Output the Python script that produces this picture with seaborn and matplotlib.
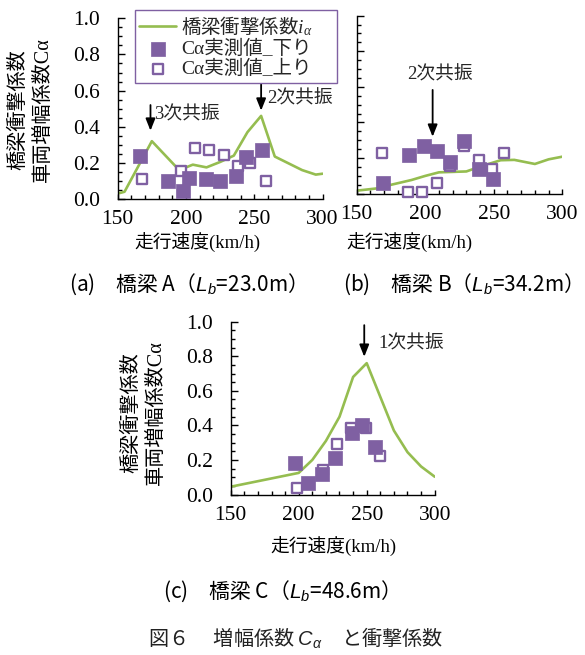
import matplotlib
matplotlib.use("Agg")
import matplotlib.pyplot as plt
import seaborn as sns
from matplotlib.ticker import MultipleLocator, FormatStrFormatter

# ---------------- data ----------------
x_ticks = [150, 200, 250, 300]
y_ticks = [0.0, 0.2, 0.4, 0.6, 0.8, 1.0]

# Bridge A (Lb = 23.0 m)
a_line_speed = [150, 155, 175, 195, 205, 215, 225, 235, 245, 255, 265, 285, 295, 300]
a_line_val = [0.03, 0.04, 0.32, 0.16, 0.19, 0.175, 0.205, 0.24, 0.37, 0.46, 0.235, 0.16, 0.135, 0.14]
a_down_speed = [166, 187, 197.5, 202.5, 215, 225, 236.5, 244, 255.5]
a_down_val = [0.236, 0.10, 0.047, 0.118, 0.112, 0.098, 0.125, 0.234, 0.273]
a_up_speed = [167.5, 196, 206.5, 217, 228, 238, 247, 258.5]
a_up_val = [0.11, 0.155, 0.28, 0.273, 0.243, 0.18, 0.20, 0.10]

# Bridge B (Lb = 34.2 m)
b_line_speed = [150, 165, 175, 190, 200, 210, 230, 240, 255, 265, 280, 290, 300]
b_line_val = [0.017, 0.03, 0.05, 0.077, 0.10, 0.12, 0.125, 0.152, 0.188, 0.19, 0.167, 0.193, 0.208]
b_down_speed = [169.4, 188.5, 199.2, 208.5, 217.8, 228.5, 239.2, 249.6]
b_down_val = [0.06, 0.215, 0.27, 0.24, 0.178, 0.294, 0.138, 0.085]
b_up_speed = [168.3, 187.7, 197.8, 208.4, 217.8, 228.5, 239.2, 248.7, 257.7]
b_up_val = [0.227, 0.008, 0.011, 0.058, 0.157, 0.27, 0.187, 0.138, 0.228]

# Bridge C (Lb = 48.6 m)
c_line_speed = [150, 200, 210, 220, 230, 240, 250, 270, 280, 290, 300]
c_line_val = [0.045, 0.125, 0.20, 0.31, 0.45, 0.68, 0.76, 0.37, 0.245, 0.162, 0.103]
c_down_speed = [197.2, 207, 217, 227, 239, 246.3, 255.8]
c_down_val = [0.181, 0.069, 0.12, 0.21, 0.355, 0.40, 0.277]
c_up_speed = [199, 217.8, 228, 238.5, 249.8, 259.5]
c_up_val = [0.037, 0.14, 0.29, 0.384, 0.386, 0.224]

lbl_line = "橋梁衝撃係数$i_\\alpha$"
lbl_down = "Cα実測値_下り"
lbl_up = "Cα実測値_上り"
xlabel = "走行速度(km/h)"
ylabel = "橋梁衝撃係数\n車両増幅係数Cα"
cap_a = "(a)\u3000橋梁 A（$\\mathsf{L_b}$=23.0m）"
cap_b = "(b)\u3000橋梁 B（$\\mathsf{L_b}$=34.2m）"
cap_c = "(c)\u3000橋梁 C（$\\mathsf{L_b}$=48.6m）"
cap_fig = "図６\u3000 増幅係数 $\\mathsf{C_α}$\u3000と衝撃係数"

# ---------------- style ----------------
sns.set_theme(style="ticks")
MIX = ["Liberation Serif", "Noto Sans CJK JP"]
plt.rcParams["font.family"] = MIX
plt.rcParams["mathtext.fontset"] = "custom"
plt.rcParams["mathtext.it"] = "Liberation Serif:italic"
plt.rcParams["mathtext.rm"] = "Liberation Serif"
plt.rcParams["mathtext.sf"] = "Liberation Sans:italic"

GREEN = "#95BD50"
PURPLE = "#7F60A2"

W, H = 585, 655
fig = plt.figure(figsize=(W / 100, H / 100), dpi=100)
fig.patch.set_facecolor("white")


def add_ax(l, t, r, b):
    return fig.add_axes([l / W, 1 - b / H, (r - l) / W, (b - t) / H])


axA = add_ax(117.7, 18.3, 322.6, 199.0)
axB = add_ax(356.7, 15.7, 562.3, 193.7)
axC = add_ax(230.7, 321.7, 434.7, 494.5)


def panel(ax, ls, lv, ds, dv, us, uv, show_ylab):
    sns.lineplot(x=ls, y=lv, ax=ax, color=GREEN, lw=1.9, zorder=2,
                 label=lbl_line, errorbar=None, legend=False)
    sns.scatterplot(x=us, y=uv, ax=ax, marker="s", s=62, facecolor="white",
                    edgecolor=PURPLE, linewidth=1.7, zorder=3, clip_on=False,
                    label=lbl_up, legend=False)
    sns.scatterplot(x=ds, y=dv, ax=ax, marker="s", s=88, color=PURPLE,
                    edgecolor=PURPLE, linewidth=0.5, zorder=4, clip_on=False,
                    label=lbl_down, legend=False)
    ax.set_xlim(150, 300)
    ax.set_ylim(0, 1.0)
    ax.set_xticks(x_ticks)
    ax.set_yticks(y_ticks)
    ax.xaxis.set_minor_locator(MultipleLocator(10))
    ax.yaxis.set_minor_locator(MultipleLocator(0.05))
    ax.yaxis.set_major_formatter(FormatStrFormatter("%.1f"))
    ax.xaxis.set_major_formatter(FormatStrFormatter("%d"))
    for s in ("top", "right"):
        ax.spines[s].set_visible(False)
    for s in ("left", "bottom"):
        ax.spines[s].set_color("black")
        ax.spines[s].set_linewidth(1.0)
    ax.tick_params(axis="x", which="major", direction="in", length=3.8, width=1.0,
                   color="black", labelsize=15.5, pad=8, labelcolor="black")
    ax.tick_params(axis="x", which="minor", direction="in", length=3.0, width=1.0, color="black")
    ax.tick_params(axis="y", which="major", direction="in", length=4.8, width=1.0,
                   color="black", labelsize=15.5, pad=13, labelcolor="black",
                   labelleft=show_ylab)
    ax.tick_params(axis="y", which="minor", direction="in", length=3.2, width=1.0, color="black")
    ax.set_facecolor("white")
    ax.grid(False)
    ax.set_ylabel("")


panel(axA, a_line_speed, a_line_val, a_down_speed, a_down_val, a_up_speed, a_up_val, True)
panel(axB, b_line_speed, b_line_val, b_down_speed, b_down_val, b_up_speed, b_up_val, False)
panel(axC, c_line_speed, c_line_val, c_down_speed, c_down_val, c_up_speed, c_up_val, True)

# x labels
for ax, cx, cy in ((axA, 0.387, -0.243), (axB, 0.259, -0.277), (axC, 0.506, -0.302)):
    ax.set_xlabel(xlabel, fontsize=13.5, color="black")
    ax.xaxis.set_label_coords(cx, cy)
    ax.xaxis.label.set_va("center")

# y labels (two lines, rotated)
for ax, px, py in ((axA, 30.8, 110.0), (axC, 144.2, 412.5)):
    fig.text(px / W, 1 - py / H, ylabel, rotation=90, ha="center", va="center",
             multialignment="center", fontsize=14.5, linespacing=1.38, color="black")

# resonance annotations
arrow = dict(arrowstyle="-|>,head_length=0.45,head_width=0.18", color="black",
             lw=1.3, mutation_scale=16, shrinkA=0, shrinkB=0)
axA.annotate("", xy=(174, 0.378), xytext=(174, 0.52), arrowprops=arrow)
axA.text(176.6, 0.465, "3次共振", fontsize=13.5, va="center", ha="left")
axA.annotate("", xy=(255, 0.489), xytext=(255, 0.64), arrowprops=arrow)
axA.text(259.1, 0.557, "2次共振", fontsize=13.5, va="center", ha="left", clip_on=False)
axB.annotate("", xy=(205.4, 0.32), xytext=(205.4, 0.583), arrowprops=arrow)
axB.text(210.8, 0.667, "2次共振", fontsize=13.5, va="center", ha="center")
axC.annotate("", xy=(248.2, 0.797), xytext=(248.2, 0.98), arrowprops=arrow,
             annotation_clip=False)
axC.text(258.5, 0.875, "1次共振", fontsize=13.5, va="center", ha="left")

# legend (in panel A)
handles, labels = axA.get_legend_handles_labels()
order = [labels.index(lbl_line), labels.index(lbl_down), labels.index(lbl_up)]
leg = axA.legend([handles[i] for i in order], [labels[i] for i in order],
                 loc="upper left",
                 bbox_to_anchor=(135 / W, 1 - 79 / H, 202 / W, 69 / H),
                 bbox_transform=fig.transFigure, mode="expand",
                 frameon=True, fancybox=False, framealpha=1, edgecolor=PURPLE,
                 borderaxespad=0, handlelength=1.9, handletextpad=0.25,
                 labelspacing=0.1, borderpad=0.22, fontsize=14)
leg.get_frame().set_linewidth(1.0)
leg.get_texts()[0].set_fontfamily(["Noto Sans CJK JP"])

# captions
CAP = ["Noto Sans CJK JP"]
fig.text(182.5 / W, 1 - 284 / H, cap_a, fontsize=15, family=CAP,
         ha="center", va="center", color="black")
fig.text(457.5 / W, 1 - 284 / H, cap_b, fontsize=15, family=CAP,
         ha="center", va="center", color="black")
fig.text(276 / W, 1 - 591.7 / H, cap_c, fontsize=15, family=CAP,
         ha="center", va="center", color="black")
fig.text(296 / W, 1 - 638 / H, cap_fig, fontsize=14.5, family=CAP,
         ha="center", va="center", color="#222222")

fig.savefig("out.png", dpi=100, facecolor="white")
